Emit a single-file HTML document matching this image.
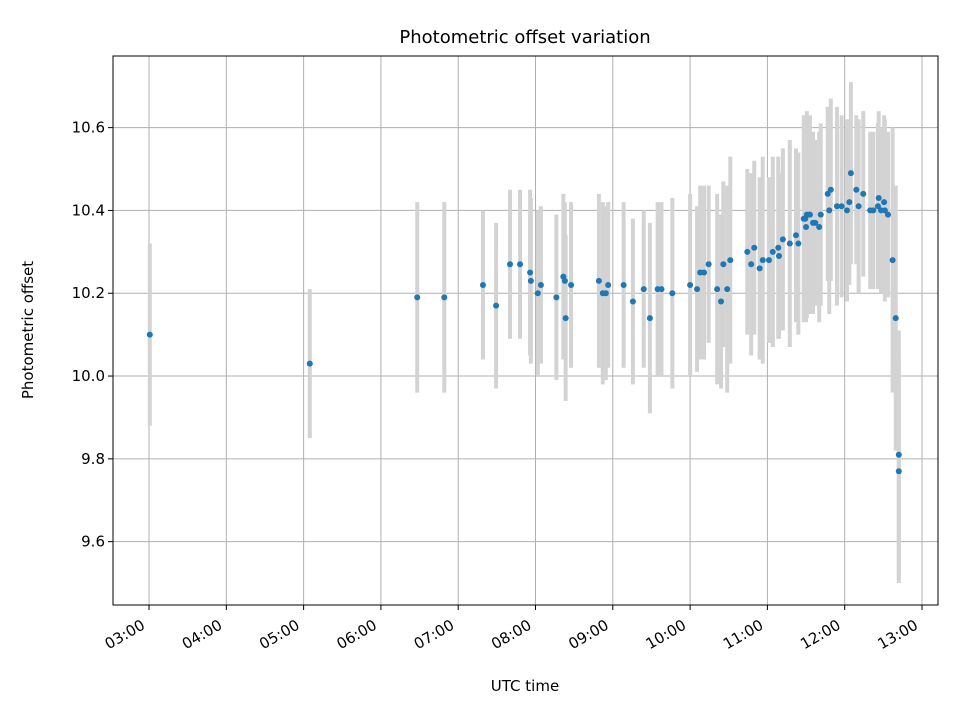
<!DOCTYPE html>
<html><head><meta charset="utf-8"><style>
body{margin:0;background:#fff}
svg text{font-family:"DejaVu Sans","Liberation Sans",sans-serif;fill:#000}
</style></head><body>
<svg id="chart" width="960" height="720" viewBox="0 0 960 720" xmlns="http://www.w3.org/2000/svg">
<rect width="960" height="720" fill="#fff"/>
<text x="525" y="43" font-size="18" text-anchor="middle">Photometric offset variation</text>
<g id="grid"></g><g id="errs"></g><g id="pts"></g>
<rect x="113" y="56" width="825" height="549" fill="none" stroke="#000" stroke-width="1"/>
<g id="axes"></g>
<text x="525" y="691" font-size="15" text-anchor="middle">UTC time</text>
<text transform="translate(33,330) rotate(-90)" font-size="15" text-anchor="middle">Photometric offset</text>
</svg>
<script>
const times=[3.01,5.08,6.47,6.82,7.32,7.49,7.67,7.80,7.93,7.94,8.03,8.07,8.27,8.36,8.38,8.39,8.46,8.82,8.87,8.91,8.94,9.14,9.26,9.40,9.48,9.58,9.63,9.77,10.00,10.09,10.13,10.18,10.24,10.35,10.40,10.43,10.48,10.52,10.74,10.79,10.83,10.90,10.94,11.02,11.07,11.14,11.15,11.20,11.29,11.37,11.40,11.47,11.49,11.50,11.51,11.54,11.55,11.59,11.62,11.67,11.69,11.78,11.82,11.80,11.90,11.96,12.03,12.06,12.08,12.15,12.18,12.24,12.33,12.37,12.43,12.44,12.47,12.51,12.52,12.56,12.62,12.66,12.70,12.70];
const offsets=[10.10,10.03,10.19,10.19,10.22,10.17,10.27,10.27,10.25,10.23,10.20,10.22,10.19,10.24,10.23,10.14,10.22,10.23,10.20,10.20,10.22,10.22,10.18,10.21,10.14,10.21,10.21,10.20,10.22,10.21,10.25,10.25,10.27,10.21,10.18,10.27,10.21,10.28,10.30,10.27,10.31,10.26,10.28,10.28,10.30,10.31,10.29,10.33,10.32,10.34,10.32,10.38,10.38,10.36,10.39,10.39,10.39,10.37,10.37,10.36,10.39,10.44,10.45,10.40,10.41,10.41,10.40,10.42,10.49,10.45,10.41,10.44,10.40,10.40,10.41,10.43,10.40,10.42,10.40,10.39,10.28,10.14,9.81,9.77];
const errors=[0.22,0.18,0.23,0.23,0.18,0.2,0.18,0.18,0.2,0.2,0.2,0.19,0.2,0.2,0.19,0.2,0.2,0.21,0.22,0.21,0.2,0.2,0.2,0.19,0.23,0.21,0.21,0.23,0.22,0.2,0.21,0.21,0.19,0.23,0.21,0.2,0.25,0.25,0.2,0.22,0.21,0.22,0.25,0.2,0.23,0.22,0.2,0.22,0.25,0.21,0.22,0.25,0.24,0.23,0.25,0.22,0.24,0.22,0.2,0.23,0.22,0.21,0.22,0.25,0.24,0.22,0.22,0.2,0.22,0.18,0.21,0.2,0.19,0.19,0.2,0.21,0.2,0.21,0.22,0.2,0.32,0.32,0.3,0.27];
const yTicks=[9.6,9.8,10.0,10.2,10.4,10.6];
const xTicks=[3,4,5,6,7,8,9,10,11,12,13];
const X0=113,X1=938,Y0=56,Y1=605,XMIN=2.534,XMAX=13.207,YMIN=9.447,YMAX=10.773;
const sx=h=>X0+(h-XMIN)/(XMAX-XMIN)*(X1-X0);
const sy=v=>Y1-(v-YMIN)/(YMAX-YMIN)*(Y1-Y0);
const NS="http://www.w3.org/2000/svg";
function mk(tag,attrs,parent){const e=document.createElementNS(NS,tag);for(const k in attrs)e.setAttribute(k,attrs[k]);document.getElementById(parent).appendChild(e);return e;}
xTicks.forEach(h=>{const x=sx(h);
 const g=mk('line',{x1:x,x2:x,y1:Y0,y2:Y1,stroke:'#b0b0b0','stroke-width':1},'grid');
 
 
 const t=mk('line',{x1:x,x2:x,y1:Y1,y2:Y1+5,stroke:'#000'},'axes');
 
 
 const lb=mk('text',{transform:`translate(${x-3},${Y1+23}) rotate(-30)`,'font-size':15,'text-anchor':'end'},'axes');
 lb.textContent=String(h).padStart(2,'0')+':00';
 
 
});
yTicks.forEach(v=>{const y=sy(v);
 const g=mk('line',{x1:X0,x2:X1,y1:y,y2:y,stroke:'#b0b0b0','stroke-width':1},'grid');
 
 
 const t=mk('line',{x1:X0-5,x2:X0,y1:y,y2:y,stroke:'#000'},'axes');
 
 
 const lb=mk('text',{x:X0-8,y:y+5,'font-size':15,'text-anchor':'end'},'axes');
 lb.textContent=v.toFixed(1);
 
 
});
times.forEach((h,i)=>{const x=sx(h);
 const e=mk('line',{x1:x,x2:x,y1:sy(offsets[i]+errors[i]),y2:sy(offsets[i]-errors[i]),stroke:'#d3d3d3','stroke-width':4},'errs');
 
 
 const p=mk('circle',{cx:x,cy:sy(offsets[i]),r:3,fill:'#1f77b4'},'pts');
 
 
});
</script>
</body></html>
